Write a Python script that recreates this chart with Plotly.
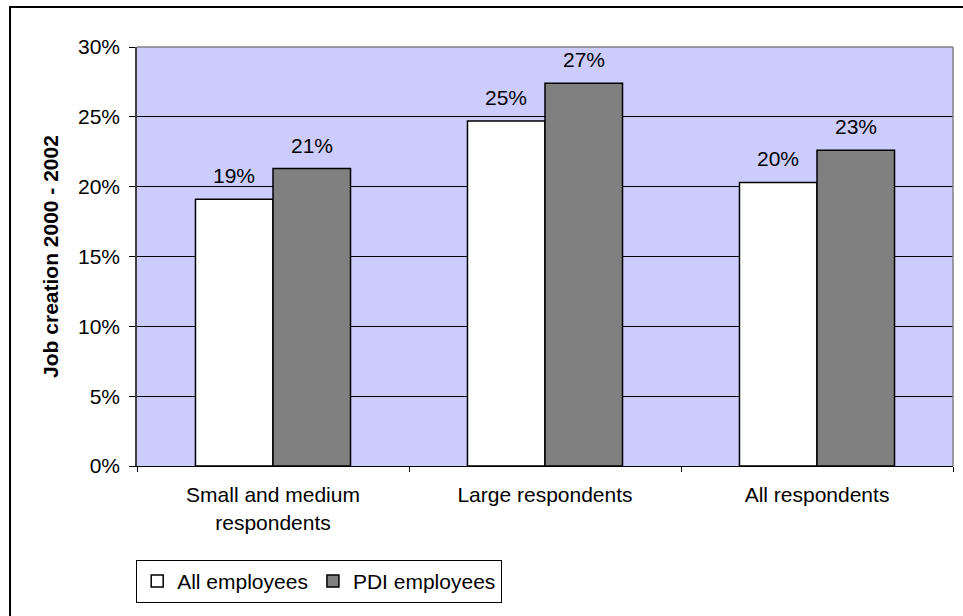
import plotly.graph_objects as go

categories = ["Small and medium<br>respondents", "Large respondents", "All respondents"]
all_employees = [0.191, 0.247, 0.203]
pdi_employees = [0.213, 0.274, 0.226]
series_names = ["All employees", "PDI employees"]
y_ticks = [0, 0.05, 0.10, 0.15, 0.20, 0.25, 0.30]

FONT = "Liberation Sans, Arial, sans-serif"
FS = 21

fig = go.Figure()
fig.add_trace(go.Bar(
    x=categories, y=all_employees, name=series_names[0],
    marker=dict(color="#FFFFFF", line=dict(color="#000000", width=1.5)),
))
fig.add_trace(go.Bar(
    x=categories, y=pdi_employees, name=series_names[1],
    marker=dict(color="#808080", line=dict(color="#000000", width=1.5)),
))

# value labels above each bar
for series, shift in ((all_employees, -39), (pdi_employees, 39)):
    for cat, val in zip(categories, series):
        fig.add_annotation(
            x=cat, y=val, xref="x", yref="y", text=f"{val:.0%}",
            showarrow=False, xanchor="center", yanchor="bottom",
            xshift=shift, yshift=10,
            font=dict(size=FS, family=FONT, color="#000000"),
        )

fig.update_layout(
    width=963, height=616,
    margin=dict(l=137, r=10, t=47, b=150),
    paper_bgcolor="#FFFFFF",
    plot_bgcolor="#CCCCFF",
    font=dict(family=FONT, size=FS, color="#000000"),
    barmode="group", bargap=0.43, bargroupgap=0,
    showlegend=True,
    legend=dict(
        orientation="h", x=-0.001, y=-0.224, xanchor="left", yanchor="top",
        bordercolor="#000000", borderwidth=1, bgcolor="#FFFFFF",
        font=dict(size=FS, family=FONT), itemwidth=30,
        traceorder="normal", tracegroupgap=0,
    ),
    xaxis=dict(
        type="category", showgrid=False,
        showline=True, linecolor="#000000", linewidth=1,
        ticks="outside", tickson="boundaries", ticklen=5, tickcolor="#000000",
        tickfont=dict(size=FS, family=FONT), ticklabelstandoff=10,
        mirror=False,
    ),
    yaxis=dict(
        range=[0, 0.30], tickvals=y_ticks, tickformat=".0%",
        showgrid=True, gridcolor="#000000", gridwidth=1,
        showline=True, linecolor="#404040", linewidth=1.5,
        ticks="outside", ticklen=6, tickcolor="#000000",
        tickfont=dict(size=FS, family=FONT), ticklabelstandoff=5,
        zeroline=False,
        title=dict(text="<b>Job creation 2000 - 2002</b>", font=dict(size=FS, family=FONT), standoff=14),
    ),
)

# plot area top/right border (gray)
fig.add_shape(type="line", xref="paper", yref="paper", x0=0, x1=1, y0=1, y1=1,
              line=dict(color="#808080", width=1.5))
fig.add_shape(type="line", xref="paper", yref="paper", x0=1, x1=1, y0=0, y1=1,
              line=dict(color="#808080", width=1.5))
# outer chart border
fig.add_shape(type="rect", xref="paper", yref="paper",
              x0=-0.1556, x1=1.2, y0=-0.5, y1=1.0955,
              line=dict(color="#000000", width=2), layer="above")

fig.write_html("out.html")
